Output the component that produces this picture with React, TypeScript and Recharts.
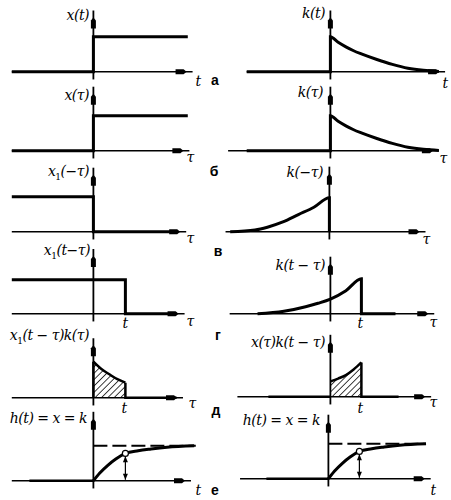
import React from "react";
import {
  ComposedChart,
  Line,
  Area,
  XAxis,
  YAxis,
  ReferenceLine,
  ReferenceDot,
} from "recharts";

// pixels per unit
const UX_L = 32;
const UX_R = 31;
const UY = 35;
const Y_DOMAIN: [number, number] = [-0.35, 2.05];
const X_DOMAIN_L: [number, number] = [-2.7, 3.4];
const X_DOMAIN_R: [number, number] = [-3.4, 3.8];

// unit step x(t)
const stepTau = [-2.55, 0, 0, 2.95];
const stepVal = [0, 0, 1, 1];

// impulse response k(t), rows а and б
const kTau = [-2.7, 0, 0, 0.25, 0.5, 0.75, 1, 1.5, 2, 2.5, 3, 3.5];
const kVal = [0, 0, 1, 0.84, 0.71, 0.6, 0.51, 0.35, 0.21, 0.1, 0.04, 0.01];

// x1(-tau)
const revStepTau = [-2.55, 0, 0, 2.6];
const revStepVal = [1, 1, 0, 0];

// k(-tau)
const kRevTau = [-3.2, -2.4, -2, -1.5, -1, -0.5, 0, 0];
const kRevVal = [0, 0.05, 0.13, 0.28, 0.49, 0.7, 0.97, 0];

// x1(t - tau)
const shiftStepTau = [-2.55, 1, 1, 2.6];
const shiftStepVal = [0.97, 0.97, 0, 0];

// k(t - tau)
const kShiftTau = [-2.35, -1.5, -0.8, -0.4, 0, 0.5, 1, 1, 2.1];
const kShiftVal = [0, 0.07, 0.2, 0.3, 0.42, 0.66, 1.0, 0, 0];

// x1(t - tau) k(tau), hatched
const prodLTau = [0, 0.25, 0.5, 0.75, 1];
const prodLVal = [1.03, 0.82, 0.67, 0.53, 0.43];

// x(tau) k(t - tau), hatched
const prodRTau = [0, 0.25, 0.5, 0.75, 1];
const prodRVal = [0.44, 0.52, 0.62, 0.78, 0.98];

// h(t)
const hTau = [0, 0.2, 0.45, 0.7, 1, 1.4, 1.8, 2.3, 3.15];
const hVal = [0, 0.22, 0.44, 0.62, 0.78, 0.86, 0.91, 0.96, 1];
const hLevel = 1;
const hMark = 1;
const hMarkVal = 0.78;

const pts = (xs: number[], ys: number[]) => xs.map((x, i) => ({ x, y: ys[i] }));

const HArrow = (p: any) => {
  const { cx, cy } = p;
  return (
    <polygon
      points={`${cx - 17},${cy - 2.5} ${cx - 9},${cy - 2.5} ${cx - 6},${cy} ${cx - 9},${cy + 2.5} ${cx - 17},${cy + 2.5}`}
      fill="#000"
    />
  );
};

const VArrow = (p: any) => {
  const { cx, cy } = p;
  return (
    <polygon
      points={`${cx - 2.5},${cy + 18} ${cx - 2.5},${cy + 10} ${cx},${cy + 7} ${cx + 2.5},${cy + 10} ${cx + 2.5},${cy + 18}`}
      fill="#000"
    />
  );
};

const TipUp = (p: any) => {
  const { cx, cy } = p;
  return <polygon points={`${cx},${cy} ${cx - 2.5},${cy + 6} ${cx + 2.5},${cy + 6}`} fill="#000" />;
};

const TipDown = (p: any) => {
  const { cx, cy } = p;
  return <polygon points={`${cx},${cy} ${cx - 2.5},${cy - 6} ${cx + 2.5},${cy - 6}`} fill="#000" />;
};

interface Series {
  data: { x: number; y: number }[];
  width?: number;
  dash?: string;
}

interface PanelProps {
  id: string;
  ox: number;
  oy: number;
  right?: boolean;
  axisX: [number, number];
  axisTop: number;
  lines?: Series[];
  hatch?: { x: number; y: number }[];
  mark?: boolean;
}

function Panel({ id, ox, oy, right, axisX, axisTop, lines = [], hatch, mark }: PanelProps) {
  const ux = right ? UX_R : UX_L;
  const xDomain = right ? X_DOMAIN_R : X_DOMAIN_L;
  const left = ox + xDomain[0] * ux;
  const width = (xDomain[1] - xDomain[0]) * ux;
  const top = oy - Y_DOMAIN[1] * UY;
  const height = (Y_DOMAIN[1] - Y_DOMAIN[0]) * UY;
  return (
    <div style={{ position: "absolute", left, top, width, height }}>
      <ComposedChart width={width} height={height} margin={{ top: 0, right: 0, bottom: 0, left: 0 }}>
        <defs>
          <pattern
            id={`hatch-${id}`}
            patternUnits="userSpaceOnUse"
            width="4.5"
            height="4.5"
            patternTransform="rotate(45)"
          >
            <line x1="0" y1="0" x2="0" y2="4.5" stroke="#000" strokeWidth={1.5} />
          </pattern>
        </defs>
        <XAxis type="number" dataKey="x" domain={xDomain} hide allowDataOverflow />
        <YAxis type="number" dataKey="y" domain={Y_DOMAIN} hide allowDataOverflow />
        {hatch && (
          <Area
            data={hatch}
            dataKey="y"
            type="monotone"
            stroke="#000"
            strokeWidth={2.5}
            fill={`url(#hatch-${id})`}
            fillOpacity={1}
            isAnimationActive={false}
          />
        )}
        <ReferenceLine
          segment={[{ x: axisX[0], y: 0 }, { x: axisX[1], y: 0 }]}
          stroke="#000"
          strokeWidth={1.6}
        />
        <ReferenceLine
          segment={[{ x: 0, y: -0.22 }, { x: 0, y: axisTop }]}
          stroke="#000"
          strokeWidth={1.8}
        />
        <ReferenceDot x={axisX[1]} y={0} shape={HArrow} />
        <ReferenceDot x={0} y={axisTop} shape={VArrow} />
        {lines.map((l, i) => (
          <Line
            key={i}
            data={l.data}
            dataKey="y"
            type="monotone"
            stroke="#000"
            strokeWidth={l.width ?? 3}
            strokeDasharray={l.dash}
            dot={false}
            activeDot={false}
            isAnimationActive={false}
          />
        ))}
        {mark && (
          <ReferenceLine
            segment={[{ x: hMark, y: 0.03 }, { x: hMark, y: hMarkVal - 0.08 }]}
            stroke="#000"
            strokeWidth={1.2}
          />
        )}
        {mark && <ReferenceDot x={hMark} y={hMarkVal - 0.08} shape={TipUp} />}
        {mark && <ReferenceDot x={hMark} y={0.03} shape={TipDown} />}
        {mark && (
          <ReferenceDot x={hMark} y={hMarkVal} r={3} fill="#fff" stroke="#000" strokeWidth={1.2} />
        )}
      </ComposedChart>
    </div>
  );
}

const serif: React.CSSProperties = {
  position: "absolute",
  fontFamily: "DejaVu Serif, serif",
  fontStyle: "italic",
  fontSize: 14,
  letterSpacing: -0.5,
  whiteSpace: "nowrap",
  lineHeight: 1,
  color: "#000",
};

const letter: React.CSSProperties = {
  position: "absolute",
  fontFamily: "Arial, Liberation Sans, sans-serif",
  fontWeight: "bold",
  fontSize: 14,
  transform: "translate(-50%, -50%)",
  lineHeight: 1,
  color: "#000",
};

// label centred on (x, y), or right edge at x when `end` is set
const L = ({
  x,
  y,
  end,
  children,
}: {
  x: number;
  y: number;
  end?: boolean;
  children: React.ReactNode;
}) => (
  <span
    style={{
      ...serif,
      left: x,
      top: y,
      transform: end ? "translate(-100%, -50%)" : "translate(-50%, -50%)",
    }}
  >
    {children}
  </span>
);
const R = ({ x, y, children }: { x: number; y: number; children: React.ReactNode }) => (
  <span style={{ ...letter, left: x, top: y }}>{children}</span>
);
const Sub = () => <sub style={{ fontSize: 9, fontStyle: "normal" }}>1</sub>;

export default function App() {
  const step = pts(stepTau, stepVal);
  const k = pts(kTau, kVal);
  return (
    <div
      style={{
        position: "absolute",
        left: 0,
        top: 0,
        width: 451,
        height: 500,
        background: "#fff",
        overflow: "hidden",
      }}
    >
      {/* а */}
      <Panel id="a1" ox={93} oy={72} axisX={[-2.55, 3.1]} axisTop={1.75} lines={[{ data: step }]} />
      <Panel id="a2" ox={330} oy={72} right axisX={[-2.7, 3.7]} axisTop={1.75} lines={[{ data: k }]} />
      {/* б */}
      <Panel id="b1" ox={93} oy={151} axisX={[-2.55, 3.0]} axisTop={1.83} lines={[{ data: step }]} />
      <Panel id="b2" ox={330} oy={151} right axisX={[-3.3, 3.5]} axisTop={1.83} lines={[{ data: k }]} />
      {/* в */}
      <Panel
        id="c1"
        ox={93}
        oy={232}
        axisX={[-2.55, 2.9]}
        axisTop={1.83}
        lines={[{ data: pts(revStepTau, revStepVal) }]}
      />
      <Panel
        id="c2"
        ox={329}
        oy={232}
        right
        axisX={[-3.35, 3.1]}
        axisTop={1.86}
        lines={[{ data: pts(kRevTau, kRevVal) }]}
      />
      {/* г */}
      <Panel
        id="d1"
        ox={93}
        oy={314}
        axisX={[-2.55, 2.85]}
        axisTop={1.85}
        lines={[{ data: pts(shiftStepTau, shiftStepVal) }]}
      />
      <Panel
        id="d2"
        ox={330}
        oy={314}
        right
        axisX={[-3.25, 3.35]}
        axisTop={1.63}
        lines={[{ data: pts(kShiftTau, kShiftVal) }]}
      />
      {/* д */}
      <Panel
        id="e1"
        ox={93}
        oy={398}
        axisX={[-2.55, 2.8]}
        axisTop={1.7}
        hatch={pts(prodLTau, prodLVal)}
        lines={[
          { data: pts([0, 0], [0, prodLVal[0]]), width: 2.5 },
          { data: pts([1, 1, 2.6], [prodLVal[4], 0, 0]), width: 2.5 },
        ]}
      />
      <Panel
        id="e2"
        ox={330}
        oy={397}
        right
        axisX={[-3.0, 3.25]}
        axisTop={1.77}
        hatch={pts(prodRTau, prodRVal)}
        lines={[
          { data: pts([-2.0, 0], [0, 0]), width: 2.5 },
          { data: pts([1, 1, 2.2], [prodRVal[4], 0, 0]), width: 2.5 },
        ]}
      />
      {/* е */}
      <Panel
        id="f1"
        ox={93}
        oy={481}
        axisX={[-2.55, 3.05]}
        axisTop={1.97}
        lines={[
          { data: pts([0, 3.2], [hLevel, hLevel]), width: 2, dash: "14 5" },
          { data: pts(hTau, hVal), width: 3 },
          { data: pts([-2.0, 0], [0, 0]), width: 2.5 },
        ]}
        mark
      />
      <Panel
        id="f2"
        ox={328}
        oy={479}
        right
        axisX={[-2.85, 3.3]}
        axisTop={1.83}
        lines={[
          { data: pts([0, 3.1], [hLevel, hLevel]), width: 2, dash: "14 5" },
          { data: pts(hTau, hVal), width: 3 },
          { data: pts([-2.0, 0], [0, 0]), width: 2.5 },
        ]}
        mark
      />

      {/* labels */}
      <L x={89} y={15} end>x(t)</L>
      <L x={325} y={13} end>k(t)</L>
      <L x={198} y={81}>t</L>
      <L x={445} y={83}>t</L>
      <R x={215} y={80}>а</R>

      <L x={89} y={95} end>x(τ)</L>
      <L x={323} y={92} end>k(τ)</L>
      <L x={190} y={157}>τ</L>
      <L x={443} y={158}>τ</L>
      <R x={214} y={171}>б</R>

      <L x={89} y={173} end>
        x<Sub />(−τ)
      </L>
      <L x={323} y={172} end>k(−τ)</L>
      <L x={190} y={238}>τ</L>
      <L x={426} y={239}>τ</L>
      <R x={218} y={251}>в</R>

      <L x={90} y={252} end>
        x<Sub />(t−τ)
      </L>
      <L x={325} y={265} end>k(t − τ)</L>
      <L x={125} y={323}>t</L>
      <L x={190} y={321}>τ</L>
      <L x={360} y={323}>t</L>
      <L x={433} y={322}>τ</L>
      <R x={218} y={335}>г</R>

      <L x={89} y={337} end>
        x<Sub />(t − τ)k(τ)
      </L>
      <L x={325} y={342} end>x(τ)k(t − τ)</L>
      <L x={124} y={408}>t</L>
      <L x={192} y={403}>τ</L>
      <L x={360} y={408}>t</L>
      <L x={433} y={402}>τ</L>
      <R x={216} y={410}>д</R>

      <L x={87} y={418} end>h(t) = x = k</L>
      <L x={320} y={420} end>h(t) = x = k</L>
      <L x={198} y={490}>t</L>
      <L x={433} y={490}>t</L>
      <R x={215} y={490}>е</R>
    </div>
  );
}
